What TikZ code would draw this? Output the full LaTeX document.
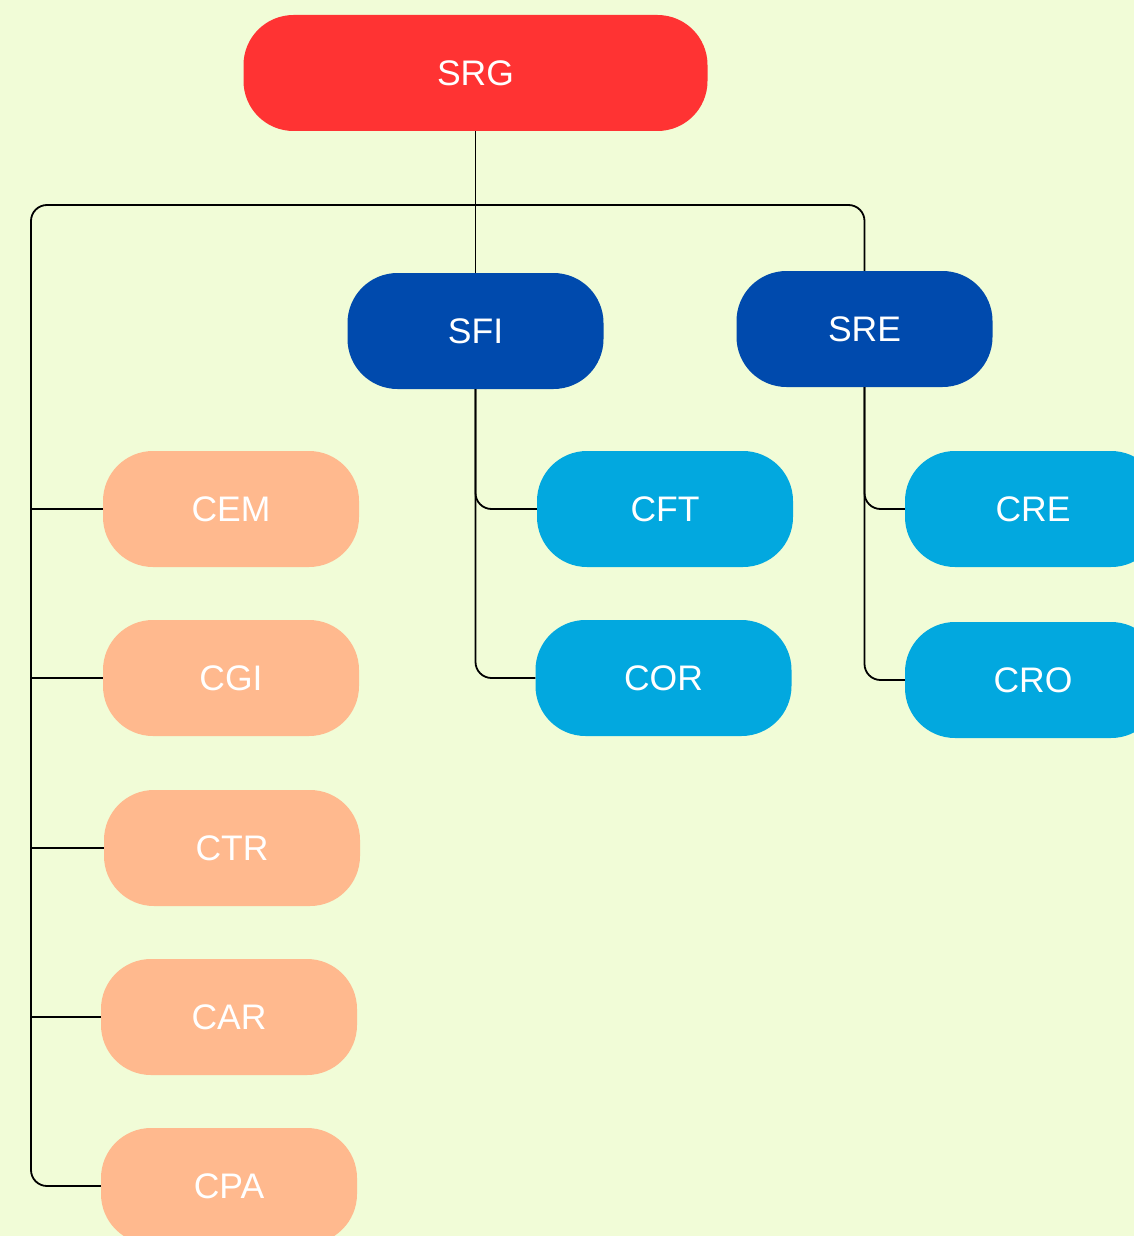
\documentclass[tikz,border=0pt]{standalone}
\usepackage{fontspec}
\setmainfont{Liberation Sans}
\definecolor{bgc}{HTML}{F1FCD7}
\definecolor{redc}{HTML}{FF3333}
\definecolor{dbluec}{HTML}{004AAD}
\definecolor{lbluec}{HTML}{02A8DF}
\definecolor{peachc}{HTML}{FFB98E}
\begin{document}
\begin{tikzpicture}[x=1pt,y=-1pt,
  box/.style={draw=none, rounded corners=50pt, minimum width=256pt, minimum height=116pt,
    inner sep=0pt, text=white, font=\fontsize{35.5}{40}\selectfont},
  conn/.style={draw=black, line width=1.8pt, rounded corners=16pt}]
\fill[bgc] (0,0) rectangle (1134,1236);
\useasboundingbox (0,0) rectangle (1134,1236);
\node[box, fill=redc, minimum width=464pt] (srg) at (475.5,73) {SRG};
\node[box, fill=dbluec] (sfi) at (475.5,331) {SFI};
\node[box, fill=dbluec] (sre) at (864.5,329) {SRE};
\node[box, fill=peachc] (cem) at (231,509) {CEM};
\node[box, fill=peachc] (cgi) at (231,678) {CGI};
\node[box, fill=peachc] (ctr) at (232,848) {CTR};
\node[box, fill=peachc] (car) at (229,1017) {CAR};
\node[box, fill=peachc] (cpa) at (229,1186) {CPA};
\node[box, fill=lbluec] (cft) at (665,509) {CFT};
\node[box, fill=lbluec] (cor) at (663.5,678) {COR};
\node[box, fill=lbluec] (cre) at (1033,509) {CRE};
\node[box, fill=lbluec] (cro) at (1033,680) {CRO};
\coordinate (tl) at (31,205);
\draw[conn] (srg.south) -- (sfi.north);
\draw[conn] (sre.north) |- (tl) |- (cpa.west);
\draw[conn] (cem.west) -- (cem.west -| tl);
\draw[conn] (cgi.west) -- (cgi.west -| tl);
\draw[conn] (ctr.west) -- (ctr.west -| tl);
\draw[conn] (car.west) -- (car.west -| tl);
\draw[conn] (sfi.south) |- (cft.west);
\draw[conn] (sfi.south) |- (cor.west);
\draw[conn] (sre.south) |- (cre.west);
\draw[conn] (sre.south) |- (cro.west);
\end{tikzpicture}
\end{document}
